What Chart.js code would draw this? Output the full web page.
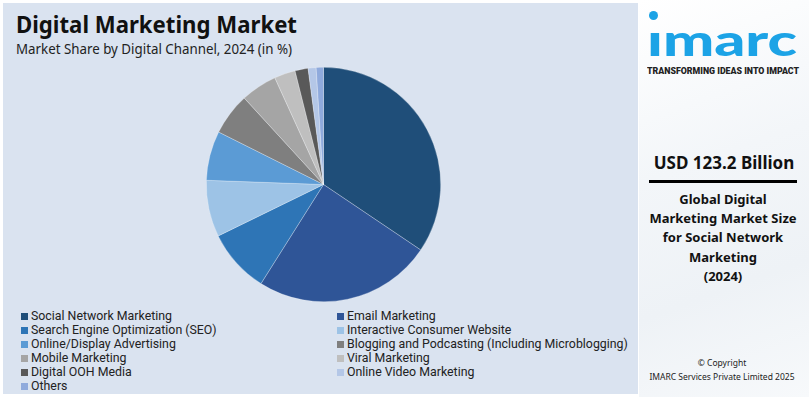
<!DOCTYPE html>
<html><head><meta charset="utf-8">
<script src="https://cdn.jsdelivr.net/npm/chart.js@4/dist/chart.umd.min.js"></script>
<style>
html,body{margin:0;padding:0;width:809px;height:397px;overflow:hidden;background:#ffffff;font-family:"Noto Sans",sans-serif;}
#left{position:absolute;left:3px;top:3px;width:635px;height:391px;background:#dae3f0;}
#title{position:absolute;left:13px;top:6px;font-size:22.5px;font-weight:700;color:#111;white-space:nowrap;transform-origin:0 0;}
#sub{position:absolute;left:13px;top:37px;font-size:13.5px;color:#222;white-space:nowrap;transform-origin:0 0;}
#wrap{position:absolute;left:200px;top:61px;width:241px;height:241px;}
#legend{position:absolute;left:18px;top:306px;width:620px;font-family:"Roboto",sans-serif;font-size:12.8px;color:#222;}
.li{position:absolute;white-space:nowrap;height:14px;line-height:14px;}
.li i{position:absolute;left:0;top:3.5px;width:7px;height:7px;}
.li span{position:absolute;left:9.5px;top:0;display:inline-block;transform-origin:0 50%;}
#right{position:absolute;left:639px;top:0;width:170px;height:397px;background:linear-gradient(160deg,#ffffff 0%,#f3f6f9 40%,#eef2f6 70%,#f7f9fb 100%);overflow:hidden;}
.rt{position:absolute;left:0;width:170px;text-align:center;color:#111;font-family:"Noto Sans",sans-serif;}
#logo{position:absolute;left:8px;top:14px;font-family:'Lato',sans-serif;font-weight:900;font-size:44px;color:#1ca3e6;line-height:50px;white-space:nowrap;transform-origin:0 0;}
#tag{position:absolute;left:8px;top:66px;font-family:'Roboto',sans-serif;font-weight:900;font-size:8.4px;color:#222;white-space:nowrap;transform-origin:0 0;}
</style></head>
<body>
<div id="left">
  <div id="title">Digital Marketing Market</div>
  <div id="sub">Market Share by Digital Channel, 2024 (in %)</div>
  <div id="wrap"><canvas id="c"></canvas></div>
  <div id="legend"></div>
</div>
<div id="right">
  <div style="position:absolute;left:9.5px;top:10.5px;width:9px;height:9px;border-radius:50%;background:#1ca3e6;"></div>
  <div id="logo">ımarc</div>
  <div id="tag">TRANSFORMING IDEAS INTO IMPACT</div>
  <div class="rt" style="top:151px;font-size:17px;font-weight:700;">USD 123.2 Billion</div>
  <div style="position:absolute;left:10px;top:180px;width:148px;height:3px;background:#000;"></div>
  <div class="rt" style="top:190px;font-size:13px;font-weight:700;line-height:19.2px;left:-1px;">Global Digital<br>Marketing Market Size<br>for Social Network<br>Marketing<br>(2024)</div>
  <div class="rt" style="top:356px;font-size:8.5px;line-height:14px;color:#222;left:-2px;">© Copyright<br>IMARC Services Private Limited 2025</div>
</div>
<script>
const categories = ["Social Network Marketing","Email Marketing","Search Engine Optimization (SEO)","Interactive Consumer Website","Online/Display Advertising","Blogging and Podcasting (Including Microblogging)","Mobile Marketing","Viral Marketing","Digital OOH Media","Online Video Marketing","Others"];
const shares = [34.4,24.5,8.8,7.8,6.8,5.8,5.0,2.9,1.8,1.1,1.0];
const colors = ["#1f4e79","#2f5597","#2e75b6","#9dc3e6","#5b9bd5","#7f7f7f","#a5a5a5","#bfbfbf","#595959","#b4c7e7","#8faadc"];

function fitW(el, w){ const r = el.getBoundingClientRect().width; el.style.transform = 'scaleX(' + (w / r) + ')'; }

const chart = new Chart(document.getElementById('c'), {
  type: 'pie',
  data: { labels: categories, datasets: [{ data: shares, backgroundColor: colors, borderColor: 'rgba(255,255,255,0.45)', borderWidth: 0.6 }] },
  options: {
    responsive: true, maintainAspectRatio: false, animation: false,
    layout: { padding: 3 },
    plugins: { legend: { display: false }, tooltip: { enabled: false } }
  }
});

const items = chart.options.plugins.legend.labels.generateLabels(chart);
const lg = document.getElementById('legend');
const spans = [];
items.forEach((it, i) => {
  const d = document.createElement('div');
  d.className = 'li';
  d.style.left = (i % 2 === 0 ? 0 : 316.3) + 'px';
  d.style.top = (Math.floor(i / 2) * 14) + 'px';
  d.innerHTML = '<i style="background:' + it.fillStyle + '"></i><span>' + it.text + '</span>';
  lg.appendChild(d);
  spans.push(d.querySelector('span'));
});
const base = spans[0].getBoundingClientRect().width;
const k = 141 / base;
spans.forEach(s => s.style.transform = 'scaleX(' + k + ')');

fitW(document.getElementById('title'), 281);
fitW(document.getElementById('sub'), 276);
fitW(document.getElementById('logo'), 150);
fitW(document.getElementById('tag'), 152);
</script>
</body></html>
